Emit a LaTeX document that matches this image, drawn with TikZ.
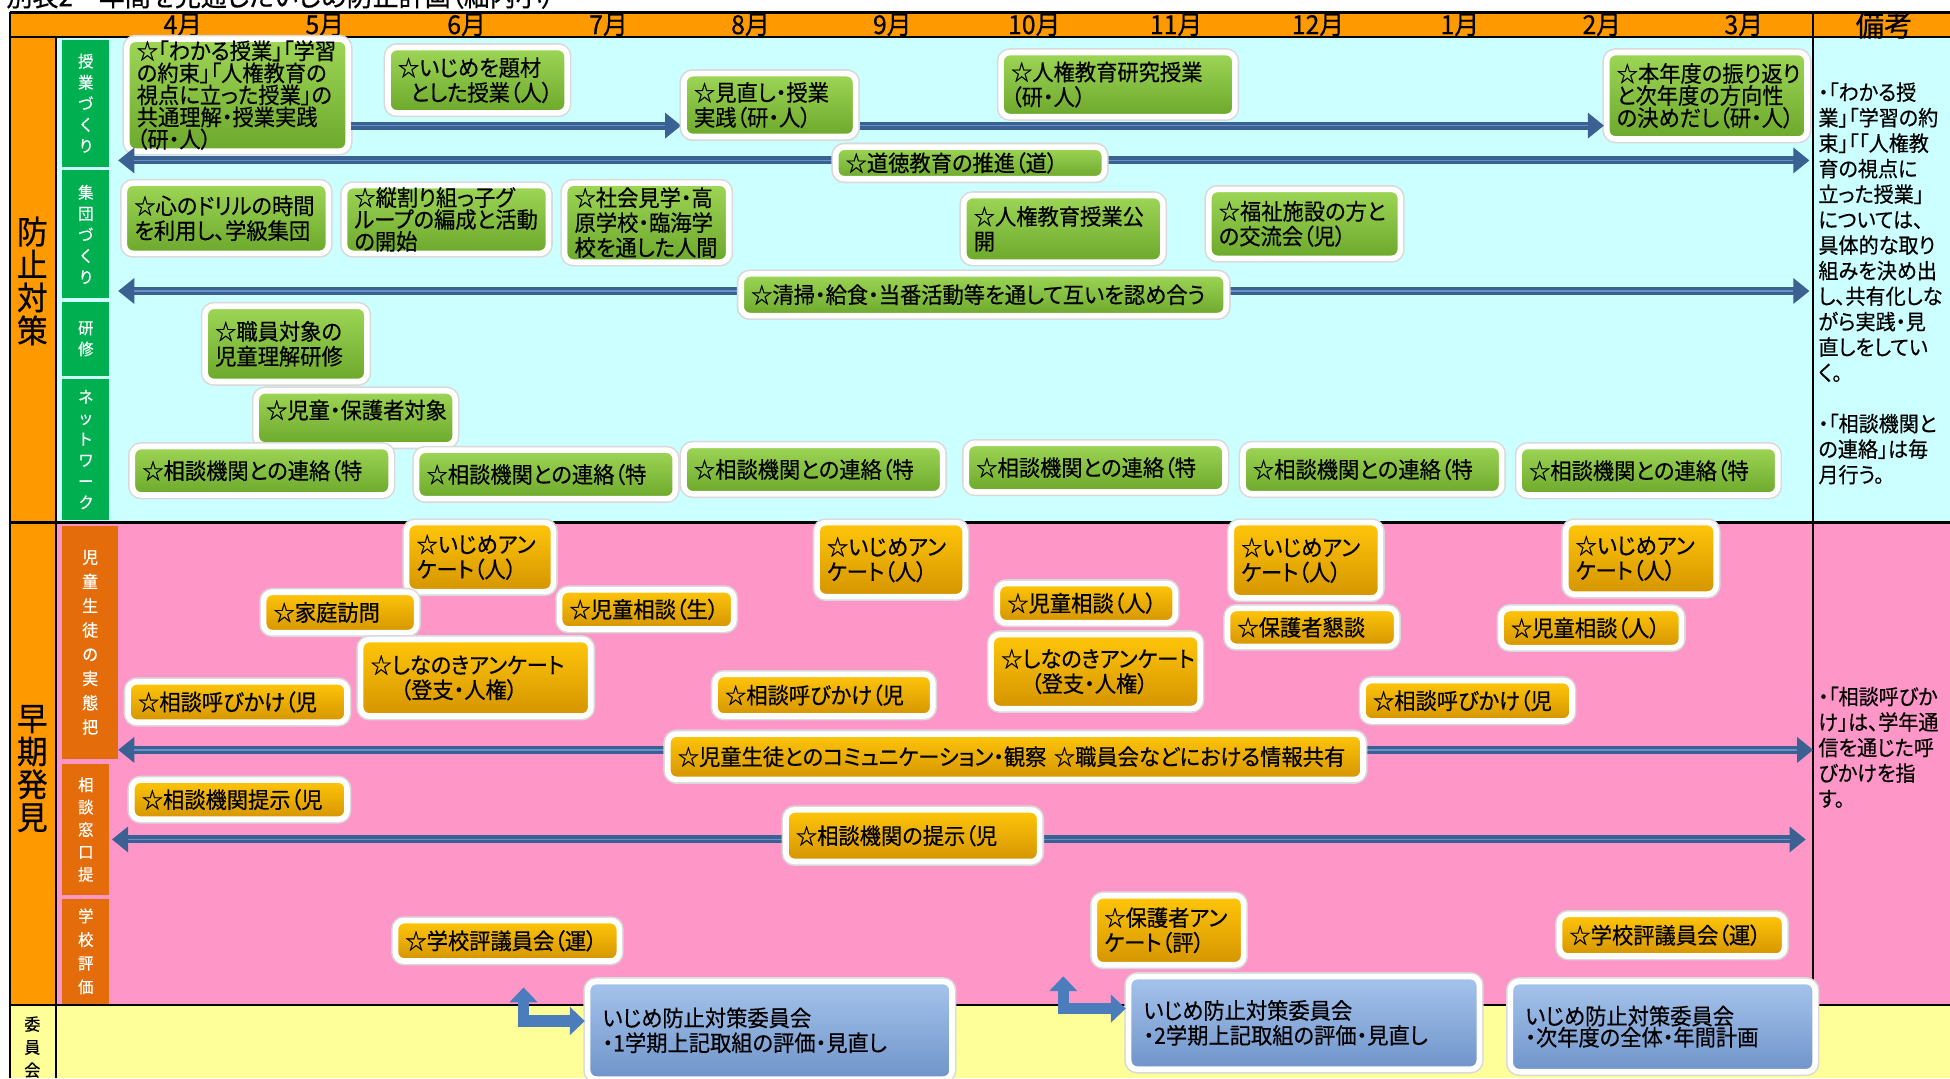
\documentclass[tikz,border=0pt]{standalone}
\usepackage{fontspec}
\newfontfamily\jp{Noto Sans CJK JP}[RawFeature=+palt,FakeStretch=0.95,FakeBold=0.5]
\usetikzlibrary{arrows.meta,calc}
\definecolor{HeadClr}{RGB}{255,153,0}
\definecolor{CyanClr}{RGB}{204,255,255}
\definecolor{PinkClr}{RGB}{255,150,200}
\definecolor{YelClr}{RGB}{255,255,153}
\definecolor{LabGClr}{RGB}{0,176,80}
\definecolor{LabOClr}{RGB}{228,108,10}
\definecolor{GTopClr}{RGB}{158,214,86}
\definecolor{GBotClr}{RGB}{108,168,44}
\definecolor{YTopClr}{RGB}{255,198,10}
\definecolor{YBotClr}{RGB}{212,148,0}
\definecolor{BTopClr}{RGB}{165,196,236}
\definecolor{BBotClr}{RGB}{112,148,202}
\definecolor{ArrClr}{RGB}{59,96,146}
\definecolor{StrClr}{RGB}{105,145,200}
\definecolor{BentClr}{RGB}{75,125,188}

\begin{document}
\begin{tikzpicture}[x=1pt,y=-1pt,
  box/.style={rounded corners=7pt,draw=white,line width=4.5pt,inner xsep=8pt,inner ysep=1pt,align=left,
    font=\jp\fontsize{18}{20}\selectfont,preaction={draw=black!15,line width=7pt}},
  gbox/.style={box,top color=GTopClr,bottom color=GBotClr},
  ybox/.style={box,top color=YTopClr,bottom color=YBotClr},
  bbox/.style={box,top color=BTopClr,bottom color=BBotClr,inner xsep=12pt},
  tight/.style={font=\jp\fontsize{18}{15.5}\selectfont},
  glab/.style={fill=LabGClr,text=white,minimum width=38pt,inner sep=0pt,align=center,font=\jp\fontsize{13}{17}\selectfont},
  olab/.style={glab,fill=LabOClr,font=\jp\fontsize{13}{19}\selectfont},
  big/.style={align=center,inner sep=0pt,font=\jp\fontsize{26}{26.5}\selectfont},
  month/.style={font=\jp\fontsize{21}{21}\selectfont},
  note/.style={anchor=north west,align=left,inner sep=0pt,font=\jp\fontsize{17}{20.5}\selectfont},
  barrow/.style={line width=6.5pt,ArrClr,-{Triangle[width=20pt,length=13pt]},
    postaction={draw=StrClr,line width=1.2pt,-,shorten >=13pt}},
  bent/.style={line width=9pt,BentClr,{Triangle[width=22pt,length=12pt]}-{Triangle[width=22pt,length=12pt]}}]
\useasboundingbox (0,0) rectangle (1568,867);
\fill[white] (0,0) rectangle (1568,867);
\node[anchor=base west,inner sep=0pt,font=\jp\fontsize{22}{22}\selectfont] (title) at (5,5) {別表2　年間を見通したいじめ防止計画（細内小）};

\fill[HeadClr] (8,10) rectangle (1568,30);
\fill[HeadClr] (8,30) rectangle (45,808);
\fill[CyanClr] (45,30) rectangle (1568,420);
\fill[PinkClr] (45,420) rectangle (1568,808);
\fill[YelClr] (8,808) rectangle (1568,867);

\draw[line width=2pt] (8,10) -- (1568,10);
\draw[line width=1.5pt] (8,30) -- (1568,30);
\draw[line width=2pt] (8,10) -- (8,867);
\draw[line width=2pt] (45,30) -- (45,867);
\draw[line width=2pt] (8,420) -- (1568,420);
\draw[line width=2pt] (8,808) -- (1568,808);
\draw[line width=1.5pt] (1458,10) -- (1458,808);

\foreach \m [count=\i from 0] in {4,5,6,7,8,9,10,11,12,1,2,3}
  \node[month] (mon\i) at ({147+114.1*\i},20) {\m 月};
\node[month,font=\jp\fontsize{24}{24}\selectfont] (biko) at (1515,20) {備考};

\node[big] (sec1) at (26,226) {防\\止\\対\\策};
\node[big] (sec2) at (26,618) {早\\期\\発\\見};
\node[big,font=\jp\fontsize{13.5}{18.5}\selectfont] (sec3) at (26,842) {委\\員\\会};

\node[glab,minimum height=102pt] (lab1) at (69,83) {授\\業\\づ\\く\\り};
\node[glab,minimum height=103pt] (lab2) at (69,188.5) {集\\団\\づ\\く\\り};
\node[glab,minimum height=59pt] (lab3) at (69,272.5) {研\\修};
\node[glab,minimum height=113pt] (lab4) at (69,361.5) {ネ\\ッ\\ト\\ワ\\ー\\ク};
\node[olab,minimum width=45pt,minimum height=187pt,font=\jp\fontsize{13.5}{19.5}\selectfont] (lab5) at (72.5,516.5) {児\\童\\生\\徒\\の\\実\\態\\把};
\node[olab,minimum height=106pt,font=\jp\fontsize{13}{18}\selectfont] (lab6) at (69,667) {相\\談\\窓\\口\\提};
\node[olab,minimum height=84pt] (lab7) at (69,765) {学\\校\\評\\価};

\node[note] (note1) at (1462,66) {・「わかる授\\業」「学習の約\\束」「「人権教\\育の視点に\\立った授業」\\については、\\具体的な取り\\組みを決め出\\し、共有化しな\\がら実践・見\\直しをしてい\\く。\\[20.5pt]・「相談機関と\\の連絡」は毎\\月行う。};
\node[note] (note2) at (1462,552) {・「相談呼びか\\け」は、学年通\\信を通じた呼\\びかけを指\\す。};

\coordinate (r1) at (0,101);
\coordinate (r2L) at (95,129);
\coordinate (r2R) at (1455,129);
\coordinate (r3L) at (95,234);
\coordinate (r3R) at (1455,234);
\coordinate (r4L) at (95,603);
\coordinate (r4R) at (1458,603);
\coordinate (r5L) at (90,675);
\coordinate (r5R) at (1452,675);
\coordinate (L1) at (421,794);
\coordinate (L2) at (855,785);

\node[gbox,tight,text width=162pt,minimum height=82.5pt] (A1) at (191,76.5) {☆「わかる授業」「学習\\の約束」「人権教育の\\視点に立った授業」の\\共通理解・授業実践\\（研・人）};
\node[gbox,text width=128pt,minimum height=52.5pt] (A2) at (384,64.5) {☆いじめを題材\\\hspace*{10pt}とした授業（人）};
\node[gbox,text width=122pt,minimum height=50.5pt] (A3) at (619,84.5) {☆見直し・授業\\実践（研・人）};
\node[gbox,text width=172pt,minimum height=51.5pt] (A4) at (899,68) {☆人権教育研究授業\\（研・人）};
\node[gbox,tight,text width=145pt,minimum height=69.5pt] (A5) at (1372.5,77) {☆本年度の振り返り\\と次年度の方向性\\の決めだし（研・人）};
\node[gbox,text width=200pt,minimum height=25.5pt] (M1) at (780,131) {☆道徳教育の推進（道）};
\draw[barrow] (A1.east |- r1) -- (A3.west |- r1);
\draw[barrow] (A3.east |- r1) -- (A5.west |- r1);
\draw[barrow] (M1.west |- r2L) -- (r2L);
\draw[barrow] (M1.east |- r2R) -- (r2R);
\node[gbox,text width=200pt,minimum height=25.5pt] at (M1) {☆道徳教育の推進（道）};
\node[gbox,text width=122pt,minimum height=50.5pt] at (A3) {☆見直し・授業\\実践（研・人）};

\node[gbox,text width=148pt,minimum height=56.5pt] (B1) at (182,175.5) {☆心のドリルの時間\\を利用し、学級集団};
\node[gbox,font=\jp\fontsize{18}{13.5}\selectfont,text width=148pt,minimum height=54.5pt] (B2) at (359,176.5) {☆縦割り組っ子グ\\ループの編成と活動\\の開始};
\node[gbox,text width=116pt,minimum height=63.5pt] (B3) at (520,179) {☆社会見学・高\\原学校・臨海学\\校を通した人間};
\node[gbox,text width=144pt,minimum height=53.5pt] (B4) at (855,184) {☆人権教育授業公\\開};
\node[gbox,text width=138pt,minimum height=55.5pt] (B5) at (1049,180) {☆福祉施設の方と\\の交流会（児）};
\node[gbox,text width=374pt,minimum height=33.5pt] (M2) at (791,237) {☆清掃・給食・当番活動等を通して互いを認め合う};
\draw[barrow] (M2.west |- r3L) -- (r3L);
\draw[barrow] (M2.east |- r3R) -- (r3R);
\node[gbox,text width=374pt,minimum height=33.5pt] at (M2) {☆清掃・給食・当番活動等を通して互いを認め合う};

\node[gbox,text width=114pt,minimum height=60.5pt] (C1) at (230,276.5) {☆職員対象の\\児童理解研修};

\node[gbox,text width=144pt,minimum height=43.5pt] (D1) at (286,336) {☆児童・保護者対象\\[-6pt]\mbox{}};
\foreach \x/\y [count=\i] in {210.5/378.5,439/381.5,654/377.5,881/376,1103.5/377.5,1325.5/378.5}
  \node[gbox,text width=192pt,minimum height=39pt] (D\i) at (\x,\y) {☆相談機関との連絡（特};

\node[ybox,text width=102pt,minimum height=55.5pt] (E1) at (386,448) {☆いじめアン\\ケート（人）};
\node[ybox,text width=103pt,minimum height=59.5pt] (E2) at (716.5,450) {☆いじめアン\\ケート（人）};
\node[ybox,text width=104pt,minimum height=60.5pt] (E3) at (1050,450.5) {☆いじめアン\\ケート（人）};
\node[ybox,text width=105pt,minimum height=57.5pt] (E4) at (1319.5,449) {☆いじめアン\\ケート（人）};
\node[ybox,text width=107pt,minimum height=32.5pt] (F1) at (273.5,492.5) {☆家庭訪問};
\node[ybox,text width=124pt,minimum height=31.5pt] (F2) at (520,490) {☆児童相談（生）};
\node[ybox,text width=127pt,minimum height=31.5pt] (F3) at (873.5,485) {☆児童相談（人）};
\node[ybox,text width=120pt,minimum height=30.5pt] (F4) at (1055,504.5) {☆保護者懇談};
\node[ybox,text width=129pt,minimum height=31.5pt] (F5) at (1279.5,505) {☆児童相談（人）};
\node[ybox,text width=169pt,minimum height=61.5pt] (G1) at (382.5,545) {☆しなのきアンケート\\\hspace*{24pt}（登支・人権）};
\node[ybox,text width=152pt,minimum height=59.5pt] (G2) at (881,540) {☆しなのきアンケート\\\hspace*{24pt}（登支・人権）};
\node[ybox,text width=160pt,minimum height=32.5pt] (H1) at (191,564.5) {☆相談呼びかけ（児};
\node[ybox,text width=159pt,minimum height=33.5pt] (H2) at (662.5,559) {☆相談呼びかけ（児};
\node[ybox,text width=152pt,minimum height=32.5pt] (H3) at (1180,563.5) {☆相談呼びかけ（児};
\node[ybox,text width=543pt,minimum height=36.5pt] (M3) at (816.5,608.5) {☆児童生徒とのコミュニケーション・観察 ☆職員会などにおける情報共有};
\draw[barrow] (M3.west |- r4L) -- (r4L);
\draw[barrow] (M3.east |- r4R) -- (r4R);
\node[ybox,text width=543pt,minimum height=36.5pt] at (M3) {☆児童生徒とのコミュニケーション・観察 ☆職員会などにおける情報共有};
\node[ybox,text width=157pt,minimum height=31.5pt] (I1) at (192.5,643) {☆相談機関提示（児};
\node[ybox,text width=188pt,minimum height=41.5pt] (M4) at (734,672) {☆相談機関の提示（児};
\draw[barrow] (M4.west |- r5L) -- (r5L);
\draw[barrow] (M4.east |- r5R) -- (r5R);
\node[ybox,text width=188pt,minimum height=41.5pt] at (M4) {☆相談機関の提示（児};
\node[ybox,text width=104pt,minimum height=55.5pt] (J1) at (940,748) {☆保護者アン\\ケート（評）};
\node[ybox,text width=164pt,minimum height=32.5pt] (J2) at (408,756.5) {☆学校評議員会（運）};
\node[ybox,text width=165pt,minimum height=33.5pt] (J3) at (1344.5,752) {☆学校評議員会（運）};

\node[bbox,text width=269pt,minimum height=78.5pt] (K1) at (619,828.5) {いじめ防止対策委員会\\・1学期上記取組の評価・見直し};
\node[bbox,text width=258pt,minimum height=74.5pt] (K2) at (1048.5,822.5) {いじめ防止対策委員会\\・2学期上記取組の評価・見直し};
\node[bbox,font=\jp\fontsize{18}{17}\selectfont,text width=221pt,minimum height=72.5pt] (K3) at (1337,825.5) {いじめ防止対策委員会\\・次年度の全体・年間計画};
\draw[bent] (L1) |- ([yshift=7.5pt]K1.west);
\draw[bent] (L2) |- ([yshift=11.5pt]K2.west);
\end{tikzpicture}
\end{document}
